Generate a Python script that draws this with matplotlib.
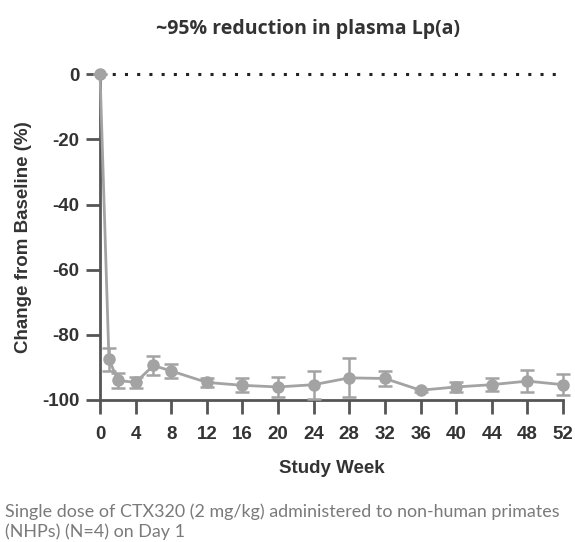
import matplotlib
matplotlib.use("Agg")
import matplotlib.pyplot as plt
import numpy as np

weeks = [0, 1, 2, 4, 6, 8, 12, 16, 20, 24, 28, 32, 36, 40, 44, 48, 52]
change = [0, -87.5, -94.0, -94.6, -89.4, -91.1, -94.6, -95.5, -96.0, -95.3,
          -93.2, -93.4, -97.0, -96.0, -95.3, -94.2, -95.3]
err = [0, 3.5, 2.3, 1.8, 2.8, 2.0, 1.5, 2.1, 3.0, 4.3,
       6.0, 2.3, 0.5, 1.5, 2.0, 3.3, 3.2]
xticks = np.arange(0, 53, 4)
yticks = [0, -20, -40, -60, -80, -100]

dark = "#333333"
spine = "#555555"
grey = "#a3a3a3"

plt.rcParams['font.family'] = ['Liberation Sans', 'DejaVu Sans']

fig = plt.figure(figsize=(5.75, 5.42), dpi=100)
ax = fig.add_axes([0.174, 0.262, 0.805, 0.601])

# dotted baseline at 0
ax.plot([0, 52], [0, 0], linestyle=(0, (1, 3.0)), color="#222222", lw=2.2,
        clip_on=False, zorder=1)

ax.errorbar(weeks, change, yerr=err, color=grey, ecolor=grey, lw=2,
            elinewidth=1.8, capsize=5, capthick=1.8, marker="o", ms=8,
            mfc=grey, mec=grey, clip_on=False, zorder=3)

ax.set_xlim(0, 52)
ax.set_ylim(-100, 0)
ax.set_xticks(xticks)
ax.set_yticks(yticks)
ax.set_yticklabels([str(v) for v in yticks])

for s in ["top", "right"]:
    ax.spines[s].set_visible(False)
for s in ["left", "bottom"]:
    ax.spines[s].set_color(spine)
    ax.spines[s].set_linewidth(2)
ax.tick_params(axis="both", colors=spine, width=2, length=10,
               labelcolor=dark, labelsize=13.5, pad=5)
ax.tick_params(axis="x", pad=9)
for lab in ax.get_xticklabels() + ax.get_yticklabels():
    lab.set_fontweight("bold")

ax.set_xlabel("Study Week", fontsize=13.5, fontweight="bold", color=dark,
              labelpad=12)
ax.set_ylabel("Change from Baseline (%)", fontsize=13.5, fontweight="bold",
              color=dark, labelpad=7)

fig.text(0.535, 0.946, "~95% reduction in plasma Lp(a)", ha="center",
         va="center", fontsize=14, fontweight="bold", color=dark,
         family=["Open Sans", "DejaVu Sans"])

fig.text(0.008, 0.038, "Single dose of CTX320 (2 mg/kg) administered to non-human primates\n(NHPs) (N=4) on Day 1",
         ha="left", va="center", fontsize=12.9, color="#7a7a7a",
         family=["Lato", "DejaVu Sans"], linespacing=1.25)

fig.savefig("out.png", dpi=100)
